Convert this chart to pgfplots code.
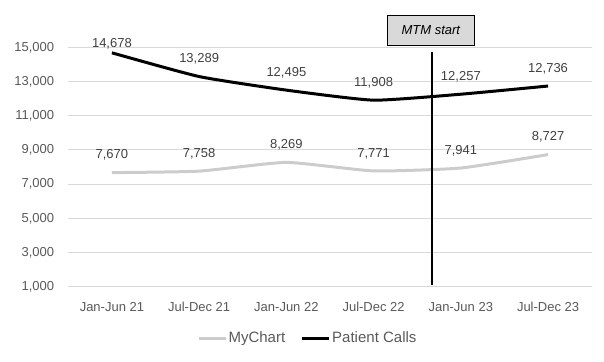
\documentclass[border=0pt]{standalone}
\usepackage{fontspec}
\setmainfont{Liberation Sans}
\usepackage{pgfplots}
\pgfplotsset{compat=1.18}
\definecolor{gridgray}{HTML}{D9D9D9}
\definecolor{ticktext}{HTML}{595959}
\definecolor{labeltext}{HTML}{404040}
\definecolor{mychart}{HTML}{CCCCCC}
\definecolor{boxfill}{HTML}{D9D9D9}
\begin{document}
\begin{tikzpicture}
\useasboundingbox (-68.3pt,-74.3pt) rectangle (535.7pt,286.7pt);
\begin{axis}[
  at={(0pt,0pt)}, anchor=south west,
  scale only axis, width=523.4pt, height=239.4pt,
  clip=false,
  xmin=-0.5, xmax=5.5, ymin=1000, ymax=15000,
  xtick={0,1,2,3,4,5},
  xticklabels={Jan-Jun 21,Jul-Dec 21,Jan-Jun 22,Jul-Dec 22,Jan-Jun 23,Jul-Dec 23},
  ytick={1000,3000,5000,7000,9000,11000,13000,15000},
  scaled y ticks=false,
  yticklabel style={/pgf/number format/fixed, /pgf/number format/1000 sep={,}},
  ymajorgrids, grid style={gridgray, line width=0.8pt},
  axis line style={draw=none},
  major tick length=0pt,
  /pgf/number format/1000 sep={,},
  /pgf/number format/assume math mode=true,
  tick label style={font=\fontsize{13}{15}\selectfont, text=ticktext, inner sep=0pt},
  xticklabel style={anchor=center, yshift=-20pt},
  yticklabel style={anchor=east, xshift=-14pt},
  legend style={at={(0.457,0)}, anchor=center, yshift=-51.3pt, draw=none, fill=none,
    font=\fontsize{15}{17}\selectfont, text=ticktext, legend columns=2,
    /tikz/every even column/.append style={column sep=14pt}, inner sep=0pt,
    nodes={inner sep=1.5pt}},
  legend cell align=left,
  legend image code/.code={\draw[#1] (0pt,0pt) -- (27pt,0pt);},
]
\addplot[mychart, line width=3pt, smooth, tension=0.3] coordinates {(0,7670)(1,7758)(2,8269)(3,7771)(4,7941)(5,8727)};
\addlegendentry{MyChart}
\addplot[black, line width=3pt, smooth, tension=0.3] coordinates {(0,14678)(1,13289)(2,12495)(3,11908)(4,12257)(5,12736)};
\addlegendentry{Patient Calls}
\addplot[black, line width=2pt, forget plot] coordinates {(3.67,1100)(3.67,14725)};
\addplot[draw=none, forget plot, nodes near coords, point meta=explicit symbolic,
  nodes near coords style={anchor=center, yshift=17.5pt, font=\fontsize{13}{15}\selectfont, text=labeltext}]
  coordinates {(0,7670)[7,670] (1,7758)[7,758] (2,8269)[8,269] (3,7771)[7,771] (4,7941)[7,941] (5,8727)[8,727]};
\addplot[draw=none, forget plot, nodes near coords, point meta=explicit symbolic,
  nodes near coords style={anchor=center, yshift=17.5pt, font=\fontsize{13}{15}\selectfont, text=labeltext}]
  coordinates {(1,13289)[13,289] (2,12495)[12,495] (3,11908)[11,908] (4,12257)[12,257] (5,12736)[12,736]};
\addplot[draw=none, forget plot, nodes near coords, point meta=explicit symbolic,
  nodes near coords style={anchor=center, yshift=9pt, font=\fontsize{13}{15}\selectfont, text=labeltext}]
  coordinates {(0,14678)[14,678]};
\node[draw=black, line width=0.8pt, fill=boxfill, minimum width=87pt, minimum height=30pt,
  inner sep=0pt, font=\itshape\fontsize{13}{15}\selectfont, text=black, yshift=17.3pt]
  at (axis cs:3.656,15000) {MTM start};
\end{axis}
\end{tikzpicture}
\end{document}
